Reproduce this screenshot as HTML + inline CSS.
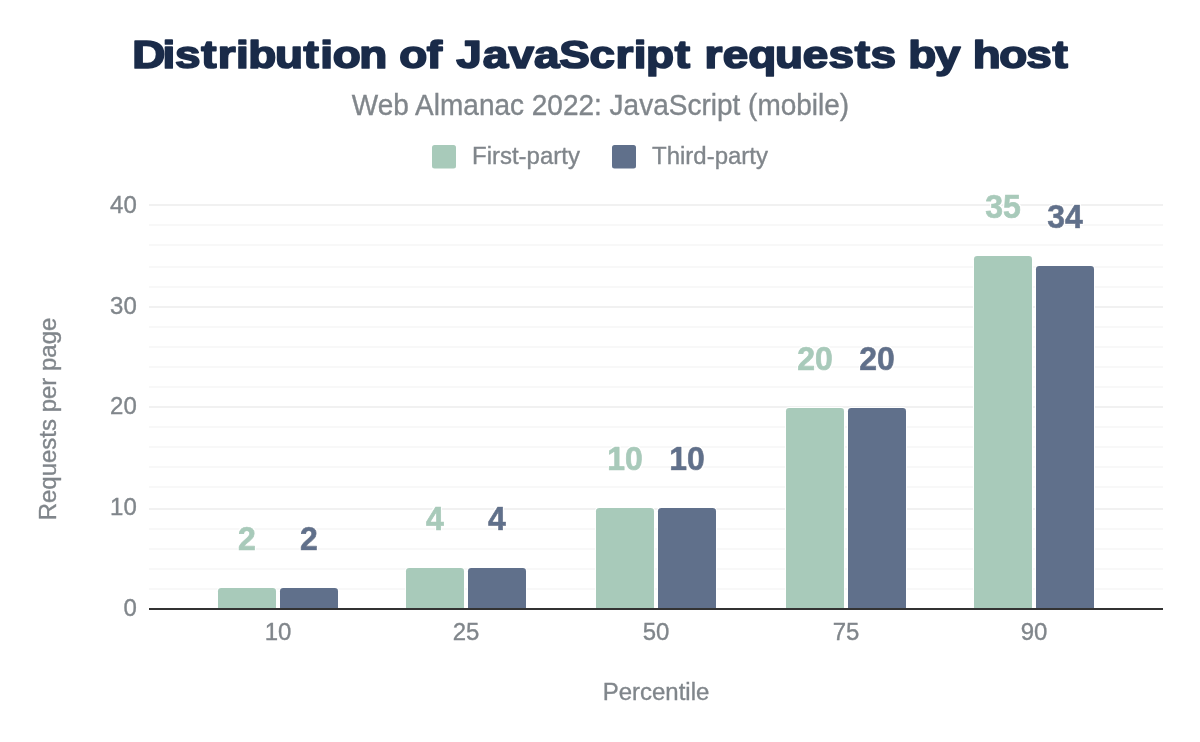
<!DOCTYPE html>
<html lang="en">
<head>
<meta charset="utf-8">
<title>Distribution of JavaScript requests by host</title>
<style>
html,body{margin:0;padding:0;background:#fff;}
body{width:1200px;height:742px;overflow:hidden;font-family:"Liberation Sans",sans-serif;}
svg{display:block;}
text{font-family:"Liberation Sans",sans-serif;}
.ax{font-size:24px;fill:#80868b;stroke:#80868b;stroke-width:0.35px;}
.sub{font-size:28px;fill:#80868b;stroke:#80868b;stroke-width:0.35px;}
.lab{font-size:32px;font-weight:bold;stroke-width:0.7px;stroke-linejoin:round;filter:url(#halo);}
.l1{fill:#a8caba;stroke:#a8caba;}
.l2{fill:#60708b;stroke:#60708b;}
</style>
</head>
<body>
<svg width="1200" height="742" viewBox="0 0 1200 742">
<defs>
<filter id="halo" x="-20%" y="-20%" width="140%" height="140%">
<feMorphology in="SourceAlpha" operator="dilate" radius="1.3" result="d"/>
<feFlood flood-color="#ffffff" result="w"/>
<feComposite in="w" in2="d" operator="in" result="h"/>
<feMerge><feMergeNode in="h"/><feMergeNode in="SourceGraphic"/></feMerge>
</filter>
</defs>
<rect x="0" y="0" width="1200" height="742" fill="#ffffff"/>

<g>
<rect x="149" y="588" width="1014" height="2" fill="#f8f8f8"/>
<rect x="149" y="568" width="1014" height="2" fill="#f8f8f8"/>
<rect x="149" y="548" width="1014" height="2" fill="#f8f8f8"/>
<rect x="149" y="528" width="1014" height="2" fill="#f8f8f8"/>
<rect x="149" y="508" width="1014" height="2" fill="#f1f1f1"/>
<rect x="149" y="486" width="1014" height="2" fill="#f8f8f8"/>
<rect x="149" y="466" width="1014" height="2" fill="#f8f8f8"/>
<rect x="149" y="446" width="1014" height="2" fill="#f8f8f8"/>
<rect x="149" y="426" width="1014" height="2" fill="#f8f8f8"/>
<rect x="149" y="406" width="1014" height="2" fill="#f1f1f1"/>
<rect x="149" y="386" width="1014" height="2" fill="#f8f8f8"/>
<rect x="149" y="366" width="1014" height="2" fill="#f8f8f8"/>
<rect x="149" y="346" width="1014" height="2" fill="#f8f8f8"/>
<rect x="149" y="326" width="1014" height="2" fill="#f8f8f8"/>
<rect x="149" y="306" width="1014" height="2" fill="#f1f1f1"/>
<rect x="149" y="286" width="1014" height="2" fill="#f8f8f8"/>
<rect x="149" y="266" width="1014" height="2" fill="#f8f8f8"/>
<rect x="149" y="244" width="1014" height="2" fill="#f8f8f8"/>
<rect x="149" y="224" width="1014" height="2" fill="#f8f8f8"/>
<rect x="149" y="204" width="1014" height="2" fill="#f1f1f1"/>
</g>
<g>
<path d="M218.0 609.00 V591.20 Q218.0 588.00 221.2 588.00 H272.8 Q276.0 588.00 276.0 591.20 V609.00 Z" fill="#a8caba" stroke="#fff" stroke-width="2" paint-order="stroke"/>
<path d="M280.0 609.00 V591.20 Q280.0 588.00 283.2 588.00 H334.8 Q338.0 588.00 338.0 591.20 V609.00 Z" fill="#60708b" stroke="#fff" stroke-width="2" paint-order="stroke"/>
<path d="M406.0 609.00 V571.20 Q406.0 568.00 409.2 568.00 H460.8 Q464.0 568.00 464.0 571.20 V609.00 Z" fill="#a8caba" stroke="#fff" stroke-width="2" paint-order="stroke"/>
<path d="M468.0 609.00 V571.20 Q468.0 568.00 471.2 568.00 H522.8 Q526.0 568.00 526.0 571.20 V609.00 Z" fill="#60708b" stroke="#fff" stroke-width="2" paint-order="stroke"/>
<path d="M596.0 609.00 V511.20 Q596.0 508.00 599.2 508.00 H650.8 Q654.0 508.00 654.0 511.20 V609.00 Z" fill="#a8caba" stroke="#fff" stroke-width="2" paint-order="stroke"/>
<path d="M658.0 609.00 V511.20 Q658.0 508.00 661.2 508.00 H712.8 Q716.0 508.00 716.0 511.20 V609.00 Z" fill="#60708b" stroke="#fff" stroke-width="2" paint-order="stroke"/>
<path d="M786.0 609.00 V411.20 Q786.0 408.00 789.2 408.00 H840.8 Q844.0 408.00 844.0 411.20 V609.00 Z" fill="#a8caba" stroke="#fff" stroke-width="2" paint-order="stroke"/>
<path d="M848.0 609.00 V411.20 Q848.0 408.00 851.2 408.00 H902.8 Q906.0 408.00 906.0 411.20 V609.00 Z" fill="#60708b" stroke="#fff" stroke-width="2" paint-order="stroke"/>
<path d="M974.0 609.00 V259.20 Q974.0 256.00 977.2 256.00 H1028.8 Q1032.0 256.00 1032.0 259.20 V609.00 Z" fill="#a8caba" stroke="#fff" stroke-width="2" paint-order="stroke"/>
<path d="M1036.0 609.00 V269.20 Q1036.0 266.00 1039.2 266.00 H1090.8 Q1094.0 266.00 1094.0 269.20 V609.00 Z" fill="#60708b" stroke="#fff" stroke-width="2" paint-order="stroke"/>
</g>
<rect x="149" y="608.00" width="1014" height="2" fill="#333333"/>
<g class="lab" text-anchor="middle">
<text transform="translate(247.00 550.00) scale(1 1.035)" class="l1">2</text>
<text transform="translate(309.00 550.00) scale(1 1.035)" class="l2">2</text>
<text transform="translate(435.00 530.00) scale(1 1.035)" class="l1">4</text>
<text transform="translate(497.00 530.00) scale(1 1.035)" class="l2">4</text>
<text transform="translate(625.00 470.00) scale(1 1.035)" class="l1">10</text>
<text transform="translate(687.00 470.00) scale(1 1.035)" class="l2">10</text>
<text transform="translate(815.00 370.00) scale(1 1.035)" class="l1">20</text>
<text transform="translate(877.00 370.00) scale(1 1.035)" class="l2">20</text>
<text transform="translate(1003.00 218.00) scale(1 1.035)" class="l1">35</text>
<text transform="translate(1065.00 228.00) scale(1 1.035)" class="l2">34</text>
</g>
<g class="ax" text-anchor="middle">
<text transform="translate(278.00 640.00) scale(1 1.035)" >10</text>
<text transform="translate(466.00 640.00) scale(1 1.035)" >25</text>
<text transform="translate(656.00 640.00) scale(1 1.035)" >50</text>
<text transform="translate(846.00 640.00) scale(1 1.035)" >75</text>
<text transform="translate(1034.00 640.00) scale(1 1.035)" >90</text>
</g>
<g class="ax" text-anchor="end">
<text transform="translate(136.80 616.00) scale(1 1.035)" >0</text>
<text transform="translate(136.80 515.00) scale(1 1.035)" >10</text>
<text transform="translate(136.80 414.00) scale(1 1.035)" >20</text>
<text transform="translate(136.80 314.00) scale(1 1.035)" >30</text>
<text transform="translate(136.80 213.00) scale(1 1.035)" >40</text>
</g>
<text transform="translate(656.00 700.00) scale(1 1.035)" class="ax" text-anchor="middle">Percentile</text>
<text class="ax" transform="translate(56 419) rotate(-90) scale(1 1.035)" text-anchor="middle">Requests per page</text>
<rect x="432" y="145" width="24" height="23.5" rx="2.5" fill="#a8caba"/>
<text transform="translate(472.00 164.00) scale(1 1.035)" class="ax">First-party</text>
<rect x="612" y="145" width="24" height="23.5" rx="2.5" fill="#60708b"/>
<text transform="translate(652.00 164.00) scale(1 1.035)" class="ax">Third-party</text>
<text transform="translate(600.50 114.70) scale(1 1.035)" class="sub" text-anchor="middle">Web Almanac 2022: JavaScript (mobile)</text>
<text transform="translate(0 68.1) scale(1.1466 0.96)" font-size="40" font-weight="bold" fill="#1a2b49" stroke="#1a2b49" stroke-width="1.8" stroke-linejoin="round"><tspan x="115.30 141.82 152.72 175.58 189.95 205.73 216.51 239.78 264.72 279.37 290.16 313.42">Distribution</tspan> <tspan x="348.31 372.29">of</tspan> <tspan x="397.86 421.13 443.42 465.71 487.72 514.17 536.89 552.67 563.45 588.39">JavaScript</tspan> <tspan x="614.37 630.41 652.58 675.85 700.21 722.51 745.37 759.31">requests</tspan> <tspan x="792.13 815.51">by</tspan> <tspan x="848.33 871.60 894.98 917.85">host</tspan></text>
</svg>
</body>
</html>
